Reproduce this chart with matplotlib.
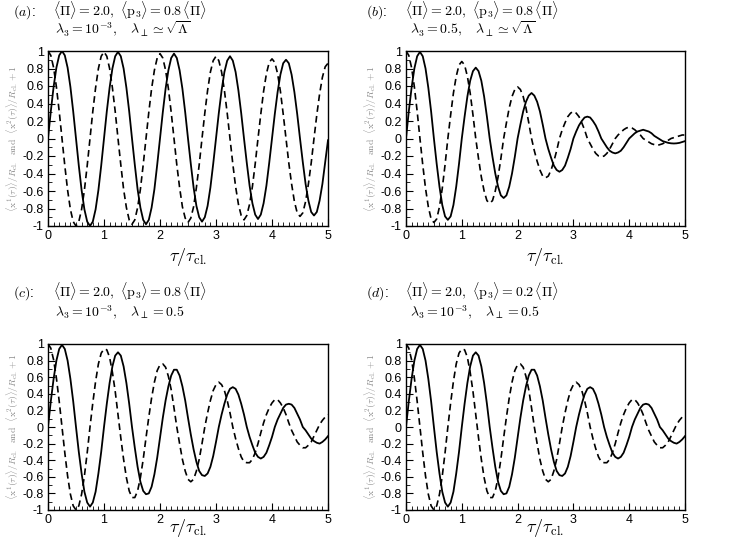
import numpy as np
import matplotlib
matplotlib.use("Agg")
import matplotlib.pyplot as plt
from matplotlib.ticker import MultipleLocator

plt.rcParams['mathtext.fontset'] = 'cm'
plt.rcParams['font.family'] = ['Liberation Sans', 'DejaVu Sans']

# tau / tau_cl. sample points (step 0.05)
tau = np.round(np.arange(101) * 0.05, 2)

# panel (a): <Pi> = 2.0, <p3> = 0.8 <Pi>, lambda3 = 1e-3, lambda_perp ~ sqrt(Lambda)
a_solid = [0, .31, .59, .81, .95, 1.0, .95, .81, .59, .31, 0, -.31, -.59, -.81, -.95, -1.0, -.95, -.81, -.59, -.31,
           0, .31, .58, .80, .94, .99, .94, .80, .58, .31, 0, -.30, -.58, -.79, -.93, -.98, -.93, -.79, -.58, -.30,
           0, .30, .57, .78, .92, .97, .92, .78, .57, .30, 0, -.29, -.56, -.77, -.90, -.95, -.90, -.77, -.56, -.29,
           0, .29, .55, .76, .89, .94, .89, .76, .55, .29, 0, -.28, -.54, -.74, -.87, -.92, -.87, -.74, -.54, -.28,
           0, .28, .53, .73, .86, .90, .86, .73, .53, .28, 0, -.27, -.52, -.71, -.84, -.88, -.84, -.71, -.52, -.27,
           -.02]
a_dashed = [1.0, .95, .81, .59, .31, 0, -.31, -.59, -.81, -.95, -1.0, -.95, -.81, -.59, -.31, 0, .31, .58, .80, .94,
            .99, .94, .80, .58, .31, 0, -.30, -.58, -.79, -.93, -.98, -.93, -.79, -.58, -.30, 0, .30, .57, .78, .92,
            .97, .92, .78, .57, .30, 0, -.30, -.56, -.78, -.91, -.96, -.91, -.78, -.56, -.30, 0, .29, .55, .76, .89,
            .94, .89, .76, .55, .29, 0, -.29, -.55, -.75, -.88, -.93, -.88, -.75, -.55, -.29, 0, .28, .54, .74, .87,
            .91, .87, .74, .54, .28, 0, -.28, -.52, -.72, -.85, -.89, -.85, -.72, -.52, -.28, 0, .27, .51, .70, .82,
            .86]

# panel (b): lambda3 = 0.5
b_solid = [0, .31, .58, .80, .94, .99, .94, .80, .58, .31, 0, -.29, -.55, -.76, -.89, -.93, -.89, -.76, -.55, -.29,
           0, .25, .48, .66, .77, .81, .77, .66, .48, .25, 0, -.21, -.40, -.55, -.65, -.68, -.65, -.55, -.40, -.21,
           0, .16, .31, .42, .49, .52, .49, .42, .31, .16, 0, -.12, -.22, -.31, -.36, -.38, -.36, -.31, -.22, -.12,
           0, .08, .15, .20, .24, .25, .24, .20, .15, .08, 0, -.05, -.10, -.14, -.16, -.17, -.16, -.14, -.10, -.05,
           0, .03, .06, .08, .09, .10, .09, .08, .06, .03, .01, -.01, -.03, -.04, -.05, -.055, -.057, -.055, -.05, -.04,
           -.03]
b_dashed = [1.0, .95, .81, .59, .31, 0, -.30, -.57, -.78, -.92, -.96, -.92, -.78, -.57, -.30, 0, .27, .52, .71, .84,
            .88, .84, .71, .52, .27, 0, -.23, -.44, -.60, -.71, -.74, -.71, -.60, -.44, -.23, 0, .18, .35, .48, .56,
            .59, .56, .48, .35, .18, 0, -.14, -.26, -.36, -.43, -.45, -.43, -.36, -.26, -.14, 0, .10, .18, .25, .29,
            .31, .29, .25, .18, .10, 0, -.06, -.12, -.17, -.20, -.21, -.20, -.17, -.12, -.06, 0, .04, .07, .10, .12,
            .13, .12, .10, .07, .04, 0, -.02, -.04, -.06, -.07, -.08, -.07, -.06, -.04, -.02, 0, .01, .02, .03, .04,
            .04]

# panel (c): lambda3 = 1e-3, lambda_perp = 0.5
c_solid = [0, .31, .58, .80, .94, .99, .94, .80, .58, .31, 0, -.30, -.56, -.78, -.91, -.96, -.91, -.78, -.56, -.30,
           0, .28, .53, .73, .86, .90, .86, .73, .53, .28, 0, -.25, -.48, -.66, -.77, -.81, -.80, -.72, -.57, -.37,
           -.13, .11, .32, .49, .62, .69, .69, .62, .49, .32, .11, -.09, -.27, -.42, -.53, -.58, -.59, -.56, -.48, -.35,
           -.18, 0, .15, .28, .39, .46, .48, .46, .39, .28, .15, 0, -.12, -.22, -.31, -.36, -.38, -.36, -.31, -.22,
           -.12, 0, .09, .16, .23, .27, .28, .27, .23, .16, .09, 0, -.04, -.09, -.14, -.17, -.19, -.20, -.18, -.15,
           -.11]
c_dashed = [1.0, .95, .81, .59, .31, 0, -.31, -.59, -.81, -.95, -1.0, -.95, -.81, -.59, -.31, 0, .29, .55, .76, .89,
            .94, .93, .84, .66, .43, .15, -.13, -.39, -.61, -.77, -.85, -.85, -.77, -.61, -.39, -.13, .12, .35, .54, .68,
            .75, .76, .72, .61, .45, .23, 0, -.20, -.39, -.53, -.63, -.66, -.63, -.53, -.39, -.20, 0, .17, .32, .44,
            .51, .54, .51, .44, .32, .17, 0, -.14, -.26, -.36, -.42, -.43, -.43, -.39, -.31, -.20, -.07, .05, .15, .23,
            .29, .33, .33, .29, .23, .15, .05, -.04, -.11, -.18, -.22, -.25, -.25, -.22, -.18, -.11, -.04, .03, .08, .12,
            .15]

# panel (d): <p3> = 0.2 <Pi>; curves read the same as panel (c)
d_solid = list(c_solid)
d_dashed = list(c_dashed)

panels = [
    ("a", r"$\langle\Pi\rangle = 2.0,\ \langle \mathrm{p}_3\rangle = 0.8\,\langle\Pi\rangle$",
     r"$\lambda_3 = 10^{-3},\quad \lambda_\perp \simeq \sqrt{\Lambda}$", a_solid, a_dashed),
    ("b", r"$\langle\Pi\rangle = 2.0,\ \langle \mathrm{p}_3\rangle = 0.8\,\langle\Pi\rangle$",
     r"$\lambda_3 = 0.5,\quad \lambda_\perp \simeq \sqrt{\Lambda}$", b_solid, b_dashed),
    ("c", r"$\langle\Pi\rangle = 2.0,\ \langle \mathrm{p}_3\rangle = 0.8\,\langle\Pi\rangle$",
     r"$\lambda_3 = 10^{-3},\quad \lambda_\perp = 0.5$", c_solid, c_dashed),
    ("d", r"$\langle\Pi\rangle = 2.0,\ \langle \mathrm{p}_3\rangle = 0.2\,\langle\Pi\rangle$",
     r"$\lambda_3 = 10^{-3},\quad \lambda_\perp = 0.5$", d_solid, d_dashed),
]

W, H = 731, 545
fig = plt.figure(figsize=(W / 100, H / 100), dpi=100)

# axes boxes in pixels: left, top, right, bottom
boxes = [(48, 51, 328, 226), (406, 51, 685, 226), (48, 344, 328, 510), (406, 344, 685, 510)]
# header positions in pixels: tag x, text x, line2 x, line1 baseline y, line2 baseline y
heads = [(13, 53, 55, 16, 34), (366, 405, 410, 16, 34), (13, 53, 55, 297, 316), (366, 405, 410, 297, 316)]
xlab_off = [31, 31, 18, 18]

ylabel = (r"$\langle \mathrm{x}^1(\tau)\rangle/R_{\mathrm{cl.}}\ \ \mathrm{and}\ \ "
          r"\langle \mathrm{x}^2(\tau)\rangle/R_{\mathrm{cl.}}+1$")

for i, (tag, l1, l2, ys, yd) in enumerate(panels):
    l, t, r, b = boxes[i]
    ax = fig.add_axes([l / W, 1 - b / H, (r - l) / W, (b - t) / H])
    ax.plot(tau, ys, color='black', lw=1.3)
    ax.plot(tau, yd, color='black', lw=1.2, dashes=(4, 2.5))
    ax.set_xlim(0, 5)
    ax.set_ylim(-1, 1)
    ax.xaxis.set_major_locator(MultipleLocator(1))
    ax.xaxis.set_minor_locator(MultipleLocator(0.1))
    ax.yaxis.set_minor_locator(MultipleLocator(0.1))
    ax.set_yticks(np.round(np.arange(-1, 1.01, 0.2), 1))
    ax.set_yticklabels(['-1', '-0.8', '-0.6', '-0.4', '-0.2', '0', '0.2', '0.4', '0.6', '0.8', '1'])
    ax.tick_params(which='both', direction='in', top=False, right=False, labelsize=9, pad=3)
    ax.tick_params(which='major', length=5)
    ax.tick_params(which='minor', length=3)
    for s in ax.spines.values():
        s.set_linewidth(1.0)
    ax.set_xlabel(r"$\tau/\tau_{\mathrm{cl.}}$", fontsize=13, va='center')
    ax.xaxis.set_label_coords(0.5, -xlab_off[i] / (b - t))
    ax.set_ylabel(ylabel, fontsize=7, color='#8c8c8c', va='center')
    ax.yaxis.set_label_coords(-35 / (r - l), 0.5)

    tx, cx, c2x, y1, y2 = heads[i]
    fig.text(tx / W, 1 - y1 / H, r"$(" + tag + r")$:", fontsize=10, va='baseline')
    fig.text(cx / W, 1 - y1 / H, l1, fontsize=10, va='baseline')
    fig.text(c2x / W, 1 - y2 / H, l2, fontsize=10, va='baseline')

fig.savefig("out.png", dpi=100)
